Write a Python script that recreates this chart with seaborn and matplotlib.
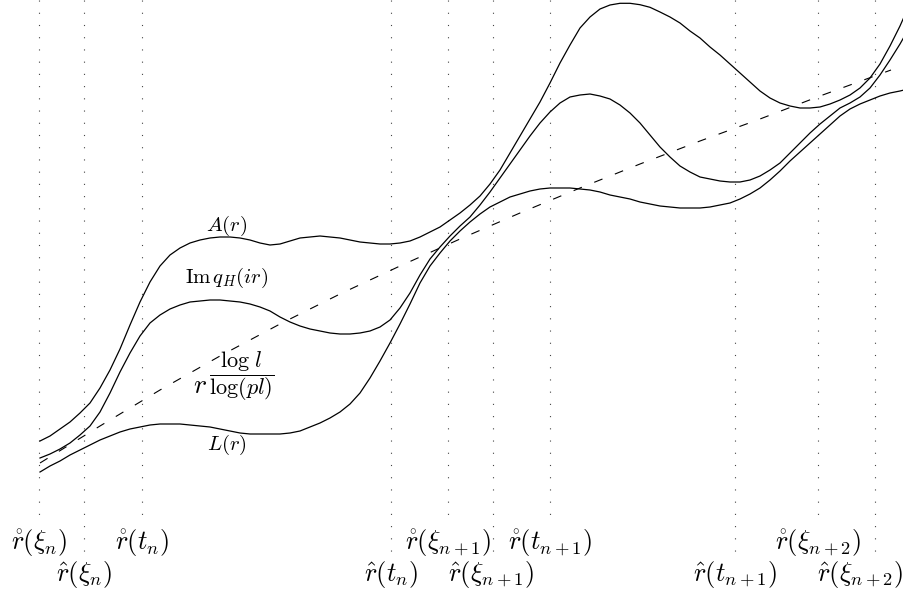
import numpy as np
import pandas as pd
import seaborn as sns
import matplotlib.pyplot as plt

plt.rcParams["mathtext.fontset"] = "cm"

# curves: r position (px) and pixel row (top = 0)
r_grid = list(range(40, 901, 10)) + [904]

a_vals = [441, 436, 429, 422, 413, 403, 388, 370, 349, 325,
          302, 282, 266, 255, 248, 243, 240, 238, 237, 237,
          238, 240, 243, 245, 244, 241, 238, 237, 236, 237,
          238, 240, 242, 243, 244, 244, 243, 241, 237, 232,
          227, 220, 213, 205, 196, 184, 170, 153, 136, 119,
          102, 83, 63, 45, 28, 17, 9, 5, 3.3, 3.3,
          4.7, 7.3, 12, 17, 23, 31, 38, 47, 55, 64,
          73, 82, 91, 98, 103, 106, 108, 108, 107, 104,
          100, 95, 88, 78, 64, 46, 26, 17]

im_vals = [458, 454, 449, 443, 435, 426, 412, 393, 372, 353,
           336, 323, 315, 309, 305, 302, 301, 300, 300, 301,
           302, 304, 307, 311, 317, 322, 326, 329, 331, 333,
           334, 334, 333, 331, 327, 320, 308, 293, 275, 259,
           247, 236, 226, 217, 205, 192, 178, 164, 150, 136,
           123, 112, 103, 97, 95, 94, 96, 99, 105, 113,
           123, 135, 147, 157, 166, 172, 177, 179, 181, 182,
           182, 180, 176, 170, 163, 153, 143, 133, 124, 116,
           108, 103, 97, 88, 75, 60, 44, 37]

l_vals = [472, 466, 461, 455, 450, 445, 440, 436, 432, 429,
          427, 425, 424, 424, 424, 425, 426, 427, 429, 431,
          433, 434, 434, 434, 434, 433, 431, 427, 423, 418,
          412, 404, 393, 378, 361, 343, 324, 304, 283, 266,
          253, 241, 231, 222, 214, 207, 202, 197, 194, 191,
          189, 188, 188, 188, 189, 190, 192, 195, 197, 199,
          202, 204, 206, 207, 208, 208, 208, 207, 205, 203,
          199, 194, 188, 180, 171, 161, 152, 143, 134, 125,
          116, 109, 104, 100, 96, 93, 91, 90]

# r^(log l / log(pl)), dashed
pw_x = [40, 100, 160, 220, 280, 340, 400, 460, 520, 580, 640, 700, 760, 820, 891]
pw_y = [463, 426, 390, 356, 324, 294, 266, 239, 213, 188, 164, 141, 119, 96, 70]

# vertical markers
ring_x = [39, 142, 448, 550, 818]
ring_labels = [r"$\mathring{r}(\xi_n)$", r"$\mathring{r}(t_n)$", r"$\mathring{r}(\xi_{n+1})$",
               r"$\mathring{r}(t_{n+1})$", r"$\mathring{r}(\xi_{n+2})$"]
hat_x = [84, 391, 493, 735, 875]
hat_labels = [r"$\hat{r}(\xi_n)$", r"$\hat{r}(t_n)$", r"$\hat{r}(\xi_{n+1})$",
              r"$\hat{r}(t_{n+1})$", r"$\hat{r}(\xi_{n+2})$"]
hat_label_x = [84, 391, 491, 735, 860]

fig = plt.figure(figsize=(9.04, 5.93), dpi=100)
ax = fig.add_axes([0, 0, 1, 1])

dots = (0, (1, 10))
ax.vlines(ring_x, 0, 518, colors="#444444", linewidth=0.8, linestyles=[dots])
ax.vlines(hat_x, 0, 553, colors="#444444", linewidth=0.8, linestyles=[dots])

curves = pd.concat([
    pd.DataFrame({"r": r_grid, "v": a_vals, "name": "A"}),
    pd.DataFrame({"r": r_grid, "v": im_vals, "name": "Im"}),
    pd.DataFrame({"r": r_grid, "v": l_vals, "name": "L"}),
])
for name, d in curves.groupby("name"):
    sns.lineplot(data=d, x="r", y="v", ax=ax, color="black", linewidth=0.9,
                 estimator=None, sort=False, solid_joinstyle="round")

sns.lineplot(x=pw_x, y=pw_y, ax=ax, color="black", linewidth=0.8,
             linestyle=(0, (8, 12)), estimator=None)

ax.text(227, 226, r"$A(r)$", fontsize=15, ha="center", va="center")
ax.text(227, 278, r"$\mathrm{Im}\,q_H(ir)$", fontsize=15, ha="center", va="center")
ax.text(200, 393, r"$r$", fontsize=20, ha="center", va="baseline")
ax.text(242, 376, r"$\dfrac{\log\,l}{\log(pl)}$", fontsize=16, ha="center", va="center")
ax.text(227, 445, r"$L(r)$", fontsize=15, ha="center", va="center")

for x, lab in zip(ring_x, ring_labels):
    ax.text(x, 543, lab, fontsize=19, ha="center", va="center")
for x, lab in zip(hat_label_x, hat_labels):
    ax.text(x, 575, lab, fontsize=19, ha="center", va="center")

ax.set_xlim(0, 904)
ax.set_ylim(593, 0)
ax.axis("off")

fig.savefig("out.png", dpi=100)
